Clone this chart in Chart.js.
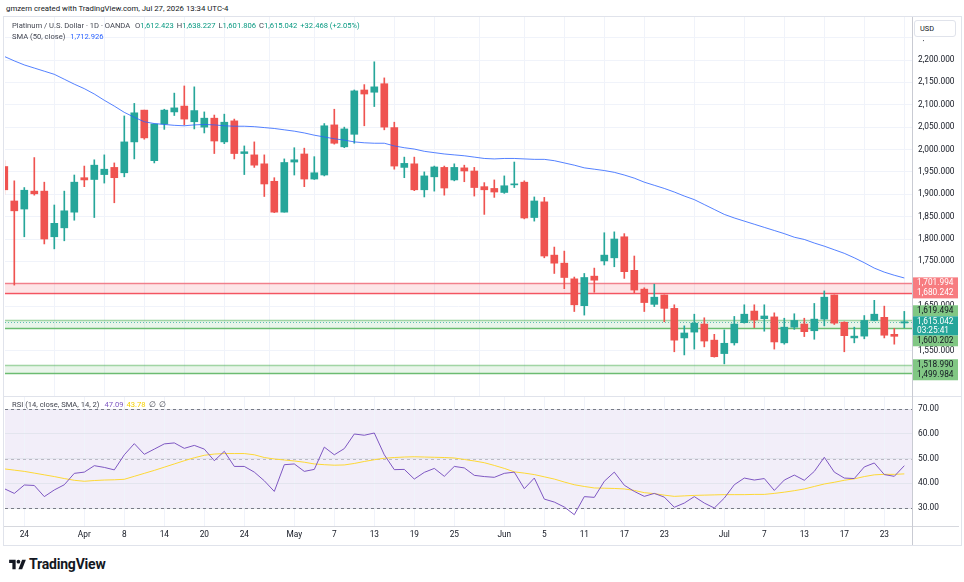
<!DOCTYPE html>
<html>
<head>
<meta charset="utf-8">
<script src="https://cdn.jsdelivr.net/npm/chart.js@4.4.1/dist/chart.umd.min.js"></script>
<style>
  body { margin: 0; background: #fff; font-family: Roboto, "Noto Sans", sans-serif; color: #131722; }
  #wrap { position: relative; width: 964px; height: 582px; overflow: hidden; }
  #wrap > * { position: absolute; }
  #hdr { left: 6px; top: 4px; font-size: 7.8px; line-height: 10px; white-space: nowrap; }
  #frame { left: 3px; top: 16px; width: 957px; height: 528px; border: 1px solid #e0e3eb; }
  #priceChart { left: 5px; top: 17px; }
  #rsiChart { left: 5px; top: 397px; }
  #sep { left: 4px; top: 396px; width: 957px; height: 1px; background: #e0e3eb; }
  #axisLine { left: 912px; top: 17px; width: 1px; height: 528px; background: #c9cbd3; }
  #bottomLine { left: 4px; top: 526px; width: 955px; height: 1px; background: #d6d8de; }
  #axisCover { left: 913px; top: 17px; width: 47px; height: 23px; background: #fff; }
  .leg { font-size: 7.6px; line-height: 10px; white-space: nowrap; color: #434651; }
  .leg span { margin-left: 3px; }
  #leg1 { left: 12px; top: 21px; }
  #leg2 { left: 12px; top: 32px; }
  #leg3 { left: 12px; top: 400px; }
  #usd { left: 914px; top: 20px; width: 35px; height: 15px; border: 1px solid #e0e3eb; border-radius: 3px;
         background: #fff; font-size: 7.4px; line-height: 15px; padding-left: 5px; }
  #logo { left: 9px; top: 556px; display: flex; align-items: center; }
  #logo b { font-size: 14px; margin-left: 3px; letter-spacing: -0.2px; }
</style>
</head>
<body>
<div id="wrap">
  <div id="hdr">gmzern created with TradingView.com, Jul 27, 2026 13:34 UTC-4</div>
  <div id="frame"></div>
  <canvas id="priceChart" width="959" height="379"></canvas>
  <canvas id="rsiChart" width="959" height="148"></canvas>
  <div id="sep"></div>
  <div id="bottomLine"></div>
  <div id="axisLine"></div>
  <div id="axisCover"></div>
  <div id="leg1" class="leg"></div>
  <div id="leg2" class="leg"></div>
  <div id="leg3" class="leg"></div>
  <div id="usd">USD</div>
  <div id="logo">
    <svg width="17" height="13" viewBox="0 0 36 28"><path d="M14 24H7V11H0V4h14z" fill="#131722"/><circle cx="20" cy="8" r="4" fill="#131722"/><path d="M28 4h8l-8 20h-8z" fill="#131722"/></svg>
    <b>TradingView</b>
  </div>
</div>
<script>
// Platinum / USD daily candles, Mar 20 - Jul 27 (index 0..90)
const opens = [1962, 1885, 1867, 1907, 1907, 1805, 1825, 1860, 1937, 1933,
  1944, 1960, 1948, 2017, 2088, 1975, 2057, 2084, 2097, 2062,
  2050, 2070, 2017, 2064, 1991, 1988, 1968, 1929, 1860, 1972,
  1990, 1934, 1943, 2055, 2006, 2034, 2133, 2128, 2147, 2049,
  1960, 1968, 1910, 1939, 1960, 1932, 1959, 1952, 1917, 1913,
  1904, 1921, 1927, 1848, 1883, 1764, 1746, 1711, 1651, 1717,
  1751, 1758, 1805, 1730, 1688, 1654, 1675, 1645, 1579, 1592,
  1610, 1574, 1544, 1568, 1613, 1639, 1622, 1626, 1568, 1603,
  1610, 1595, 1621, 1675, 1614, 1579, 1583, 1618, 1625, 1587, 1612.423];
const highs = [1975, 1930, 1915, 1982, 1927, 1876, 1907, 1943, 1963, 1977,
  1988, 1970, 2075, 2103, 2088, 2057, 2090, 2126, 2142, 2140,
  2084, 2077, 2079, 2068, 2008, 2017, 1988, 1937, 1979, 2004,
  2003, 1984, 2058, 2090, 2050, 2133, 2145, 2196, 2160, 2061,
  1983, 1983, 1950, 1963, 1963, 1968, 1965, 1960, 1926, 1932,
  1941, 1972, 1930, 1894, 1893, 1782, 1773, 1715, 1723, 1735,
  1814, 1816, 1812, 1762, 1691, 1699, 1675, 1653, 1606, 1632,
  1624, 1587, 1597, 1627, 1653, 1653, 1653, 1635, 1623, 1633,
  1623, 1656, 1684, 1675, 1615, 1603, 1629, 1663, 1650, 1600, 1638.227];
const lows = [1900, 1697, 1805, 1898, 1789, 1778, 1796, 1842, 1917, 1848,
  1925, 1881, 1939, 1979, 2023, 1970, 2045, 2076, 2055, 2046,
  2037, 1991, 2013, 1979, 1944, 1960, 1895, 1859, 1860, 1943,
  1917, 1933, 1941, 2012, 2004, 2014, 2053, 2096, 2044, 1956,
  1937, 1908, 1894, 1907, 1898, 1930, 1928, 1896, 1855, 1893,
  1902, 1915, 1845, 1840, 1758, 1723, 1689, 1638, 1630, 1681,
  1742, 1738, 1712, 1680, 1638, 1649, 1615, 1548, 1541, 1554,
  1559, 1536, 1521, 1563, 1612, 1602, 1594, 1554, 1565, 1598,
  1582, 1576, 1606, 1609, 1548, 1568, 1577, 1617, 1579, 1565, 1601.806];
const closes = [1910, 1863, 1909, 1901, 1800, 1835, 1863, 1927, 1932, 1965,
  1956, 1937, 2017, 2082, 2026, 2057, 2088, 2093, 2068, 2087,
  2070, 2019, 2061, 1991, 1995, 1965, 1923, 1860, 1971, 1977,
  1934, 1948, 2053, 2014, 2046, 2131, 2124, 2140, 2050, 1963,
  1969, 1910, 1941, 1961, 1914, 1960, 1952, 1915, 1910, 1905,
  1919, 1923, 1847, 1885, 1762, 1746, 1714, 1653, 1714, 1708,
  1764, 1800, 1727, 1686, 1658, 1670, 1645, 1574, 1590, 1612,
  1572, 1537, 1567, 1610, 1632, 1619, 1628, 1570, 1603, 1618,
  1593, 1621, 1670, 1612, 1584, 1583, 1618, 1632, 1585, 1582.574, 1615.042];

// SMA (50, close)
const sma50 = [2208, 2198, 2189, 2182, 2175, 2168, 2157, 2146, 2136, 2124,
  2110, 2097, 2083, 2072, 2062, 2058, 2056, 2054, 2053, 2055,
  2056, 2055, 2053, 2052, 2052, 2051, 2049, 2047, 2044, 2041,
  2037, 2032, 2028, 2024, 2021, 2017, 2015, 2014, 2014, 2008,
  2004, 2001, 1996, 1993, 1990, 1988, 1986, 1983, 1980, 1979,
  1980, 1980, 1979, 1978, 1978, 1975, 1970, 1965, 1959, 1956,
  1953, 1949, 1943, 1936, 1927, 1920, 1913, 1905, 1896, 1888,
  1877, 1866, 1855, 1847, 1840, 1833, 1826, 1819, 1812, 1804,
  1799, 1791, 1784, 1776, 1768, 1758, 1747, 1735, 1726, 1719, 1712.926];

// RSI (14) and its SMA (14)
const rsi = [37.8, 35.9, 39.3, 39.1, 34.6, 37.3, 39.4, 44.0, 44.5, 47.1,
  46.4, 45.4, 51.5, 56.0, 51.7, 53.8, 55.9, 56.3, 54.1, 55.3,
  53.8, 49.1, 52.9, 46.8, 46.8, 44.5, 41.0, 36.7, 47.5, 47.8,
  44.8, 45.6, 54.6, 51.5, 54.0, 59.9, 59.4, 60.3, 51.5, 45.5,
  45.6, 41.7, 44.4, 46.0, 42.8, 46.8, 46.2, 43.2, 42.7, 42.4,
  44.0, 44.5, 37.8, 42.1, 33.6, 32.4, 30.4, 27.3, 34.6, 34.3,
  40.8, 44.5, 39.2, 36.7, 34.7, 35.9, 34.4, 30.3, 32.0, 34.6,
  32.0, 30.0, 34.0, 39.4, 42.1, 41.3, 41.9, 37.1, 41.3, 43.3,
  41.2, 44.8, 50.5, 44.5, 42.1, 41.9, 46.6, 48.2, 43.5, 42.8, 47.09];
const rsiSma = [45.8, 45.3, 44.8, 44.1, 43.4, 42.7, 41.9, 41.2, 40.8, 41.1,
  41.3, 41.4, 41.6, 42.8, 44.0, 45.2, 46.5, 47.8, 49.1, 50.3,
  51.3, 51.8, 52.0, 52.0, 52.0, 51.5, 50.4, 49.8, 49.4, 49.0,
  48.5, 47.8, 47.5, 47.3, 47.4, 48.0, 48.8, 49.5, 50.1, 50.4,
  50.6, 50.7, 50.6, 50.5, 50.4, 50.2, 49.6, 49.0, 48.3, 47.2,
  46.0, 44.6, 44.1, 43.5, 42.6, 41.7, 40.5, 39.4, 38.7, 38.1,
  38.0, 37.9, 37.7, 37.1, 36.2, 35.8, 35.2, 34.7, 34.9, 35.1,
  35.2, 35.3, 35.4, 35.4, 35.4, 35.5, 35.5, 35.9, 36.4, 37.0,
  37.7, 38.7, 39.7, 40.4, 41.2, 41.8, 42.7, 43.4, 43.6, 43.6, 43.78];

// date axis labels (candle index -> text)
const tickIdx = [2, 8, 12, 16, 20, 24, 29, 33, 37, 41, 45, 50, 54, 58, 62, 66, 72, 76, 80, 84, 88];
const tickText = ['24', 'Apr', '8', '14', '20', '24', 'May', '7', '13', '19', '25', 'Jun', '5', '11', '17', '23', 'Jul', '7', '13', '17', '23'];

// support / resistance zones
const zoneHigh = [1701.994, 1619.494, 1518.990];
const zoneLow = [1680.242, 1600.202, 1499.984];
const zoneKind = ['red', 'green', 'green'];
const rsiLevels = [70, 50, 30];
const countdown = '03:25:41';

const UP = '#26a69a', DOWN = '#ef5350';
const zoneStyle = {
  red: { fill: 'rgba(242,54,69,0.13)', top: 'rgba(242,54,69,0.55)', bottom: 'rgba(242,54,69,0.85)', tag: '#f77c80', text: '#ffffff' },
  green: { fill: 'rgba(76,175,80,0.12)', top: 'rgba(76,175,80,0.45)', bottom: 'rgba(76,175,80,0.8)', tag: '#81c784', text: '#131722' }
};

Chart.defaults.font.family = 'Roboto, "Noto Sans", sans-serif';
Chart.defaults.color = '#131722';

const fmt3 = v => v.toLocaleString('en-US', { minimumFractionDigits: 3, maximumFractionDigits: 3 });
const last = closes.length - 1;

// legends
const chg = closes[last] - closes[last - 1];
document.getElementById('leg1').innerHTML =
  'Platinum / U.S. Dollar · 1D · OANDA ' +
  ['O', 'H', 'L', 'C'].map((k, j) => '<span>' + k + '<span style="margin:0;color:#089981">' +
    fmt3([opens, highs, lows, closes][j][last]) + '</span></span>').join('') +
  '<span style="color:#089981">+' + fmt3(chg) + ' (+' + (chg / closes[last - 1] * 100).toFixed(2) + '%)</span>';
document.getElementById('leg2').innerHTML = 'SMA (50, close) <span style="color:#2962ff">' + fmt3(sma50[last]) + '</span>';
document.getElementById('leg3').innerHTML = 'RSI (14, close, SMA, 14, 2) <span style="color:#7e57c2">' + rsi[last].toFixed(2) +
  '</span><span style="color:#f5d000">' + rsiSma[last].toFixed(2) + '</span><span>∅</span><span>∅</span>';

const colors = closes.map((c, i) => c >= opens[i] ? UP : DOWN);
const bodies = closes.map((c, i) => ({ x: i, y: [opens[i], c] }));
const wicks = closes.map((c, i) => ({ x: i, y: [lows[i], highs[i]] }));

const X_MIN = 0.07, X_MAX = 90.77;
const gridColor = '#f0f3fa';

function dateAxis(showLabels) {
  return {
    type: 'linear', min: X_MIN, max: X_MAX, offset: false,
    grid: { color: gridColor, drawTicks: false },
    border: { display: false },
    ticks: {
      display: showLabels, autoSkip: false, maxRotation: 0, padding: 4, font: { size: 8.3 },
      callback: v => { const k = tickIdx.indexOf(v); return k < 0 ? '' : tickText[k]; }
    },
    afterBuildTicks: s => { s.ticks = tickIdx.map(v => ({ value: v })); },
    afterFit: s => { s.height = showLabels ? 19 : 0; s.paddingLeft = 0; s.paddingRight = 0; }
  };
}

const hline = (ctx, a, y, color, width, dash) => {
  ctx.beginPath();
  ctx.setLineDash(dash || []);
  ctx.strokeStyle = color;
  ctx.lineWidth = width;
  const yy = Math.round(y) + 0.5;
  ctx.moveTo(a.left, yy);
  ctx.lineTo(a.right, yy);
  ctx.stroke();
};

const zonesPlugin = {
  id: 'zones',
  beforeDatasetsDraw(chart) {
    const { ctx, chartArea: a, scales: { y } } = chart;
    ctx.save();
    zoneHigh.forEach((hi, k) => {
      const st = zoneStyle[zoneKind[k]];
      const yt = y.getPixelForValue(hi), yb = y.getPixelForValue(zoneLow[k]);
      ctx.fillStyle = st.fill;
      ctx.fillRect(a.left, yt, a.width, yb - yt);
      hline(ctx, a, yt, st.top, 1.3);
      hline(ctx, a, yb, st.bottom, 1.3);
    });
    hline(ctx, a, y.getPixelForValue(closes[last]), 'rgba(38,166,154,0.7)', 1, [1, 2]);
    ctx.restore();
  },
  afterDraw(chart) {
    const { ctx, chartArea: a, scales: { y } } = chart;
    const x0 = a.right + 1, w = 45;
    const cur = closes[last];
    const yc = y.getPixelForValue(cur);
    const curTop = yc - 5.5, curBot = yc + 13.5;
    const tags = [];
    zoneHigh.forEach((v, k) => {
      tags.push({ v, kind: zoneKind[k] });
      tags.push({ v: zoneLow[k], kind: zoneKind[k] });
    });
    tags.sort((p, q) => q.v - p.v);
    let prev = -Infinity;
    tags.forEach(t => {
      let yy = y.getPixelForValue(t.v);
      yy = t.v > cur ? Math.min(yy, curTop - 5.5) : Math.max(yy, curBot + 5.5);
      if (yy - prev < 10) yy = prev + 10;
      t.y = yy;
      prev = yy;
    });
    ctx.save();
    ctx.font = '8.3px Roboto, "Noto Sans", sans-serif';
    ctx.textBaseline = 'middle';
    tags.forEach(t => {
      ctx.fillStyle = zoneStyle[t.kind].tag;
      ctx.fillRect(x0, t.y - 5.5, w, 11);
    });
    tags.forEach(t => {
      ctx.fillStyle = zoneStyle[t.kind].text;
      ctx.fillText(fmt3(t.v), x0 + 4, t.y + 0.5);
    });
    ctx.fillStyle = UP;
    ctx.fillRect(x0, curTop, w, curBot - curTop);
    ctx.fillStyle = '#ffffff';
    ctx.fillText(fmt3(cur), x0 + 4, yc + 0.5);
    ctx.fillText(countdown, x0 + 4, yc + 9);
    ctx.restore();
  }
};

new Chart(document.getElementById('priceChart'), {
  type: 'bar',
  data: {
    datasets: [
      { type: 'line', data: sma50.map((v, i) => ({ x: i, y: v })), borderColor: 'rgba(41,98,255,0.8)',
        borderWidth: 1, pointRadius: 0, tension: 0, order: 0 },
      { data: bodies, backgroundColor: colors, barThickness: 7, minBarLength: 1, grouped: false, order: 1 },
      { data: wicks, backgroundColor: colors, barThickness: 1, grouped: false, order: 2 }
    ]
  },
  options: {
    responsive: false, animation: false,
    layout: { padding: 0 },
    plugins: { legend: { display: false }, tooltip: { enabled: false } },
    scales: {
      x: dateAxis(false),
      y: {
        position: 'right', min: 1449.2, max: 2296.1,
        grid: { color: gridColor, drawTicks: false },
        border: { display: false },
        ticks: { stepSize: 50, padding: 6, font: { size: 8.3 }, callback: v => fmt3(v) },
        afterBuildTicks: s => { s.ticks = s.ticks.filter(t => t.value % 50 === 0); },
        afterFit: s => { s.width = 52; s.paddingTop = 0; s.paddingBottom = 0; }
      }
    }
  },
  plugins: [zonesPlugin]
});

const rsiPlugin = {
  id: 'rsiBand',
  beforeDraw(chart) {
    const { ctx, chartArea: a, scales: { y } } = chart;
    const yt = y.getPixelForValue(rsiLevels[0]), yb = y.getPixelForValue(rsiLevels[2]);
    ctx.save();
    ctx.fillStyle = 'rgba(126,87,194,0.1)';
    ctx.fillRect(a.left, yt, a.width, yb - yt);
    ctx.restore();
  },
  beforeDatasetsDraw(chart) {
    const { ctx, chartArea: a, scales: { y } } = chart;
    ctx.save();
    rsiLevels.forEach(v => {
      hline(ctx, a, y.getPixelForValue(v), v === 50 ? 'rgba(120,123,134,0.45)' : '#787b86', 1, [3, 3]);
    });
    ctx.restore();
  }
};

new Chart(document.getElementById('rsiChart'), {
  type: 'line',
  data: {
    datasets: [
      { data: rsi.map((v, i) => ({ x: i, y: v })), borderColor: '#7e57c2', borderWidth: 1, pointRadius: 0, tension: 0, order: 0 },
      { data: rsiSma.map((v, i) => ({ x: i, y: v })), borderColor: '#fdd835', borderWidth: 1, pointRadius: 0, tension: 0, order: 1 }
    ]
  },
  options: {
    responsive: false, animation: false,
    layout: { padding: 0 },
    plugins: { legend: { display: false }, tooltip: { enabled: false } },
    scales: {
      x: dateAxis(true),
      y: {
        position: 'right', min: 22.73, max: 74.85,
        grid: { color: 'rgba(224,227,235,0.8)', drawTicks: false },
        border: { display: false },
        ticks: { stepSize: 10, padding: 6, font: { size: 8.3 }, callback: v => v.toFixed(2) },
        afterBuildTicks: s => { s.ticks = s.ticks.filter(t => t.value % 10 === 0 && t.value >= 30 && t.value <= 70); },
        afterFit: s => { s.width = 52; s.paddingTop = 0; s.paddingBottom = 0; }
      }
    }
  },
  plugins: [rsiPlugin]
});
</script>
</body>
</html>
